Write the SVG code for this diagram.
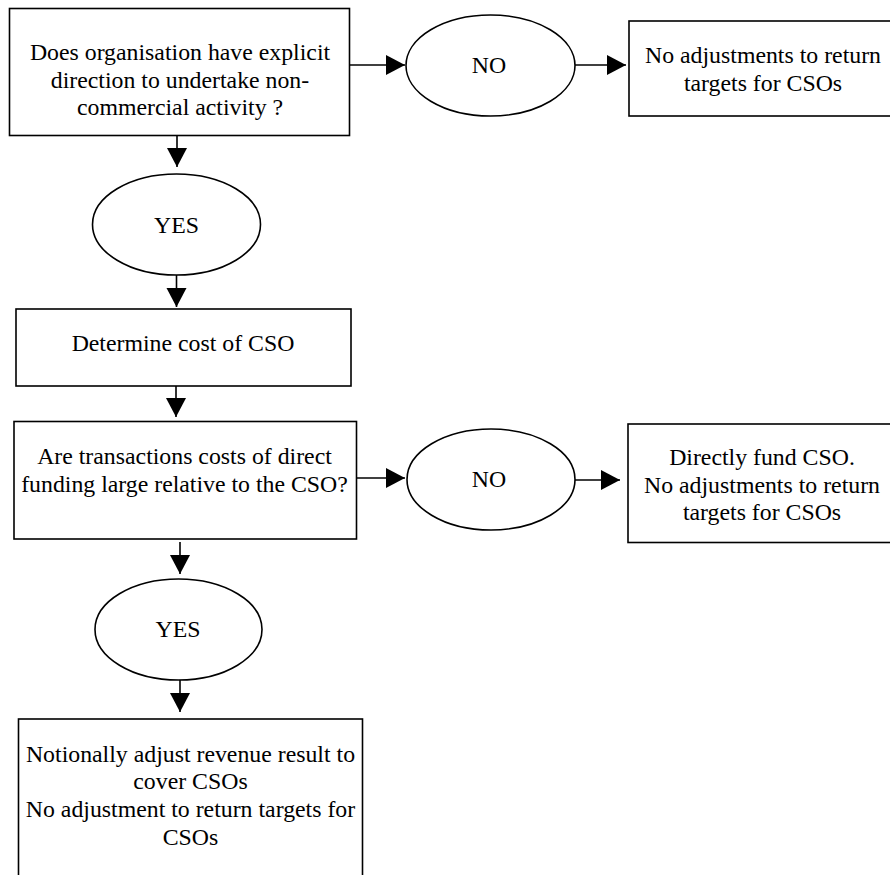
<svg xmlns="http://www.w3.org/2000/svg" width="890" height="875" viewBox="0 0 890 875">
<defs>
<style>
.box{fill:#fff;stroke:#000;stroke-width:1.6}
.ell{fill:#fff;stroke:#000;stroke-width:1.6}
.t{font-family:"Liberation Serif","Times New Roman",serif;font-size:23.8px;fill:#000;text-anchor:middle}
.c{stroke:#000;stroke-width:1.6;fill:none;marker-end:url(#ah)}
</style>
<marker id="ah" markerUnits="userSpaceOnUse" markerWidth="20" markerHeight="21" refX="19" refY="10" orient="auto" viewBox="0 0 20 21">
<path d="M0,0 L19,10 L0,20 z" fill="#000"/>
</marker>
</defs>
<rect width="890" height="875" fill="#fff"/>
<g id="connectors">
<line class="c" x1="349.5" y1="65" x2="405" y2="65"/>
<line class="c" x1="575" y1="65" x2="626" y2="65"/>
<line class="c" x1="177" y1="136" x2="177" y2="167"/>
<line class="c" x1="176.5" y1="275" x2="176.5" y2="307"/>
<line class="c" x1="176" y1="386" x2="176" y2="417"/>
<line class="c" x1="357" y1="478" x2="405" y2="478"/>
<line class="c" x1="575" y1="480" x2="620" y2="480"/>
<line class="c" x1="180" y1="542" x2="180" y2="574"/>
<line class="c" x1="180" y1="680" x2="180" y2="712"/>
</g>
<g id="n1">
<rect class="box" x="9.5" y="8.5" width="340" height="127"/>
<text class="t" x="180" y="60">Does organisation have explicit</text>
<text class="t" x="180" y="87.5">direction to undertake non-</text>
<text class="t" x="180" y="115">commercial activity ?</text>
</g>
<g id="n2">
<ellipse class="ell" cx="490.5" cy="65.5" rx="84.5" ry="50.5"/>
<text class="t" x="489" y="73">NO</text>
</g>
<g id="n3">
<rect class="box" x="629" y="21" width="270" height="95"/>
<text class="t" x="763" y="63">No adjustments to return</text>
<text class="t" x="763" y="91">targets for CSOs</text>
</g>
<g id="n4">
<ellipse class="ell" cx="176.5" cy="224.5" rx="84" ry="50.5"/>
<text class="t" x="176.5" y="232.5">YES</text>
</g>
<g id="n5">
<rect class="box" x="16" y="309" width="335" height="77"/>
<text class="t" x="183" y="350.5">Determine cost of CSO</text>
</g>
<g id="n6">
<rect class="box" x="14" y="421.5" width="342.5" height="117.5"/>
<text class="t" x="184.5" y="464">Are transactions costs of direct</text>
<text class="t" x="184.5" y="491.5">funding large relative to the CSO?</text>
</g>
<g id="n7">
<ellipse class="ell" cx="491" cy="479.5" rx="84" ry="50.5"/>
<text class="t" x="489" y="487">NO</text>
</g>
<g id="n8">
<rect class="box" x="628" y="424" width="270" height="118.5"/>
<text class="t" x="762" y="465">Directly fund CSO.</text>
<text class="t" x="762" y="493">No adjustments to return</text>
<text class="t" x="762" y="520">targets for CSOs</text>
</g>
<g id="n9">
<ellipse class="ell" cx="178.5" cy="629.5" rx="83.5" ry="50.5"/>
<text class="t" x="178" y="636.5">YES</text>
</g>
<g id="n10">
<rect class="box" x="18.5" y="719" width="344" height="170"/>
<text class="t" x="190.5" y="761.5">Notionally adjust revenue result to</text>
<text class="t" x="190.5" y="788.5">cover CSOs</text>
<text class="t" x="190.5" y="816.5">No adjustment to return targets for</text>
<text class="t" x="190.5" y="844.5">CSOs</text>
</g>
</svg>
